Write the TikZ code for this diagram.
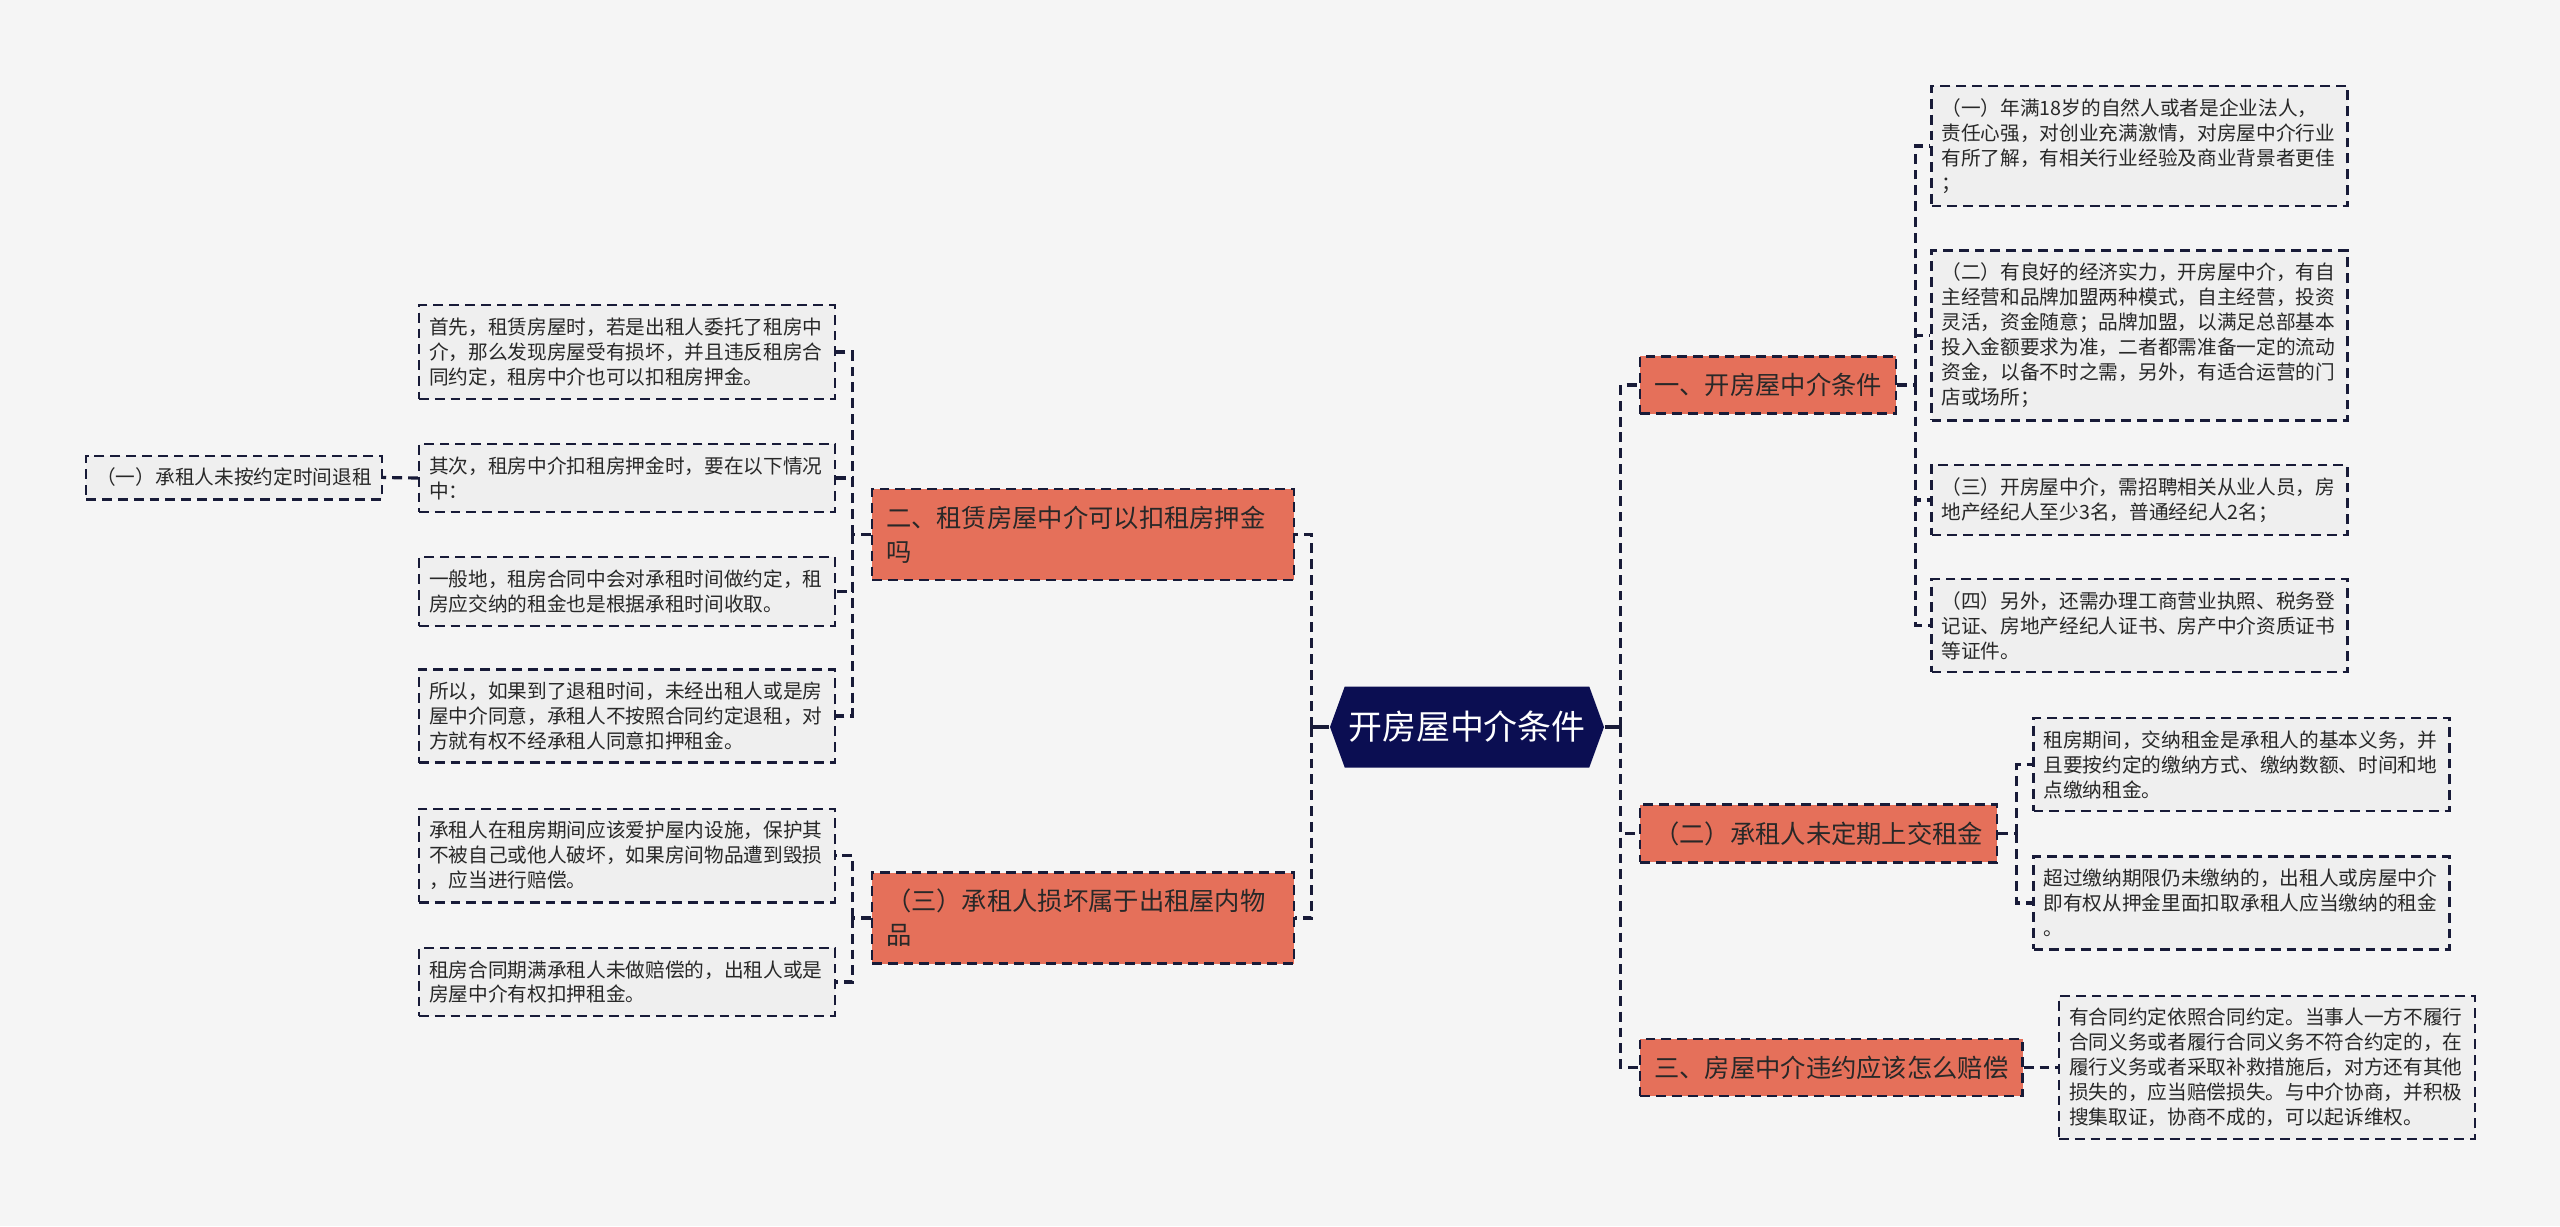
\documentclass[tikz,border=0pt]{standalone}
\usepackage{fontspec}
\newfontfamily\cjk{Noto Sans CJK SC}
\usetikzlibrary{shapes.symbols}
\definecolor{Cfundo}{RGB}{245,245,245}
\definecolor{Cmarinho}{RGB}{11,14,82}
\definecolor{Claranja}{RGB}{229,112,90}
\definecolor{Cfolha}{RGB}{239,239,239}
\definecolor{Clinha}{RGB}{24,27,56}
\definecolor{Ctexto}{RGB}{40,40,40}

\begin{document}
\begin{tikzpicture}[
      core/.style={shape=signal, signal to=west and east, signal pointer angle=140,
                   fill=Cmarinho, text=white, inner sep=0pt,
                   minimum width=2.74cm, minimum height=0.81cm,
                   font=\cjk\fontsize{9.65pt}{11pt}\selectfont},
      topic/.style={draw=Clinha, line width=0.7pt, dash pattern=on 2.8pt off 1.7pt,
                    fill=Claranja, text=Ctexto, inner xsep=0.14cm, inner ysep=0.168cm,
                    align=left, font=\cjk\fontsize{7.2pt}{9.6pt}\selectfont},
      leaf/.style={draw=Clinha, line width=0.65pt, dash pattern=on 2.8pt off 1.7pt,
                   fill=Cfolha, text=Ctexto, inner xsep=0.1cm, inner ysep=0.125cm,
                   text width=3.96cm, align=left,
                   font=\cjk\fontsize{5.6pt}{7.1pt}\selectfont},
      link/.style={draw=Clinha, line width=0.9pt, dash pattern=on 2.8pt off 1.7pt}]
    \fill[Cfundo] (0,0) rectangle (25.6,-12.26);
    % Centro
    \node[core] (C) at (14.67,-7.27) {开房屋中介条件};
    % Ramos
    \node[topic, anchor=west] (R1) at (16.39,-3.85)   {一、开房屋中介条件};
    \node[topic, anchor=west] (R2) at (16.39,-8.335)  {（二）承租人未定期上交租金};
    \node[topic, anchor=west] (R3) at (16.39,-10.675) {三、房屋中介违约应该怎么赔偿};
    \node[topic, text width=3.94cm] (L1) at (10.83,-5.345) {二、租赁房屋中介可以扣租房押金\\吗};
    \node[topic, text width=3.94cm] (L2) at (10.83,-9.18)  {（三）承租人损坏属于出租屋内物\\品};
    % Detalhes (direita)
    \node[leaf] (R1a) at (21.395,-1.46)
      {（一）年满18岁的自然人或者是企业法人，\\责任心强，对创业充满激情，对房屋中介行业\\有所了解，有相关行业经验及商业背景者更佳\\；};
    \node[leaf] (R1b) at (21.395,-3.355)
      {（二）有良好的经济实力，开房屋中介，有自\\主经营和品牌加盟两种模式，自主经营，投资\\灵活，资金随意；品牌加盟，以满足总部基本\\投入金额要求为准，二者都需准备一定的流动\\资金，以备不时之需，另外，有适合运营的门\\店或场所；};
    \node[leaf] (R1c) at (21.395,-5.00)
      {（三）开房屋中介，需招聘相关从业人员，房\\地产经纪人至少3名，普通经纪人2名；};
    \node[leaf] (R1d) at (21.395,-6.255)
      {（四）另外，还需办理工商营业执照、税务登\\记证、房地产经纪人证书、房产中介资质证书\\等证件。};
    \node[leaf] (R2a) at (22.415,-7.645)
      {租房期间，交纳租金是承租人的基本义务，并\\且要按约定的缴纳方式、缴纳数额、时间和地\\点缴纳租金。};
    \node[leaf] (R2b) at (22.415,-9.03)
      {超过缴纳期限仍未缴纳的，出租人或房屋中介\\即有权从押金里面扣取承租人应当缴纳的租金\\。};
    \node[leaf] (R3a) at (22.67,-10.675)
      {有合同约定依照合同约定。当事人一方不履行\\合同义务或者履行合同义务不符合约定的，在\\履行义务或者采取补救措施后，对方还有其他\\损失的，应当赔偿损失。与中介协商，并积极\\搜集取证，协商不成的，可以起诉维权。};
    % Detalhes (esquerda)
    \node[leaf] (L1a) at (6.27,-3.52)
      {首先，租赁房屋时，若是出租人委托了租房中\\介，那么发现房屋受有损坏，并且违反租房合\\同约定，租房中介也可以扣租房押金。};
    \node[leaf] (L1b) at (6.27,-4.78)
      {其次，租房中介扣租房押金时，要在以下情况\\中：};
    \node[leaf] (L1c) at (6.27,-5.915)
      {一般地，租房合同中会对承租时间做约定，租\\房应交纳的租金也是根据承租时间收取。};
    \node[leaf] (L1d) at (6.27,-7.16)
      {所以，如果到了退租时间，未经出租人或是房\\屋中介同意，承租人不按照合同约定退租，对\\方就有权不经承租人同意扣押租金。};
    \node[leaf] (L2a) at (6.27,-8.555)
      {承租人在租房期间应该爱护屋内设施，保护其\\不被自己或他人破坏，如果房间物品遭到毁损\\，应当进行赔偿。};
    \node[leaf] (L2b) at (6.27,-9.82)
      {租房合同期满承租人未做赔偿的，出租人或是\\房屋中介有权扣押租金。};
    \node[leaf, text width=, anchor=east] (L1e) at (3.83,-4.775) {（一）承租人未按约定时间退租};
    % Troncos
    \coordinate (Tr) at ([xshift=0.16cm]C.east);
    \coordinate (Tl) at ([xshift=-0.18cm]C.west);
    \coordinate (T1) at ([xshift=0.18cm]R1.east);
    \coordinate (T2) at ([xshift=0.18cm]R2.east);
    \coordinate (T3) at ([xshift=-0.18cm]L1.west);
    \coordinate (T4) at ([xshift=-0.18cm]L2.west);
    % Ligacoes
    \draw[link, solid] (C.east) -- (Tr);
    \draw[link, solid] (C.west) -- (Tl);
    \draw[link] (Tr) |- (R1.west);
    \draw[link] (Tr) |- (R2.west);
    \draw[link] (Tr) |- (R3.west);
    \draw[link] (Tl) |- (L1.east);
    \draw[link] (Tl) |- (L2.east);
    \draw[link] (R1.east) -- (T1);
    \draw[link] (T1) |- (R1a.west);
    \draw[link] (T1) |- (R1b.west);
    \draw[link] (T1) |- (R1c.west);
    \draw[link] (T1) |- (R1d.west);
    \draw[link] (R2.east) -- (T2);
    \draw[link] (T2) |- (R2a.west);
    \draw[link] (T2) |- (R2b.west);
    \draw[link] (R3.east) -- (R3a.west);
    \draw[link] (L1.west) -- (T3);
    \draw[link] (T3) |- (L1a.east);
    \draw[link] (T3) |- (L1b.east);
    \draw[link] (T3) |- (L1c.east);
    \draw[link] (T3) |- (L1d.east);
    \draw[link] (L2.west) -- (T4);
    \draw[link] (T4) |- (L2a.east);
    \draw[link] (T4) |- (L2b.east);
    \draw[link] (L1b.west) -- (L1e.east);
  \end{tikzpicture}
\end{document}
